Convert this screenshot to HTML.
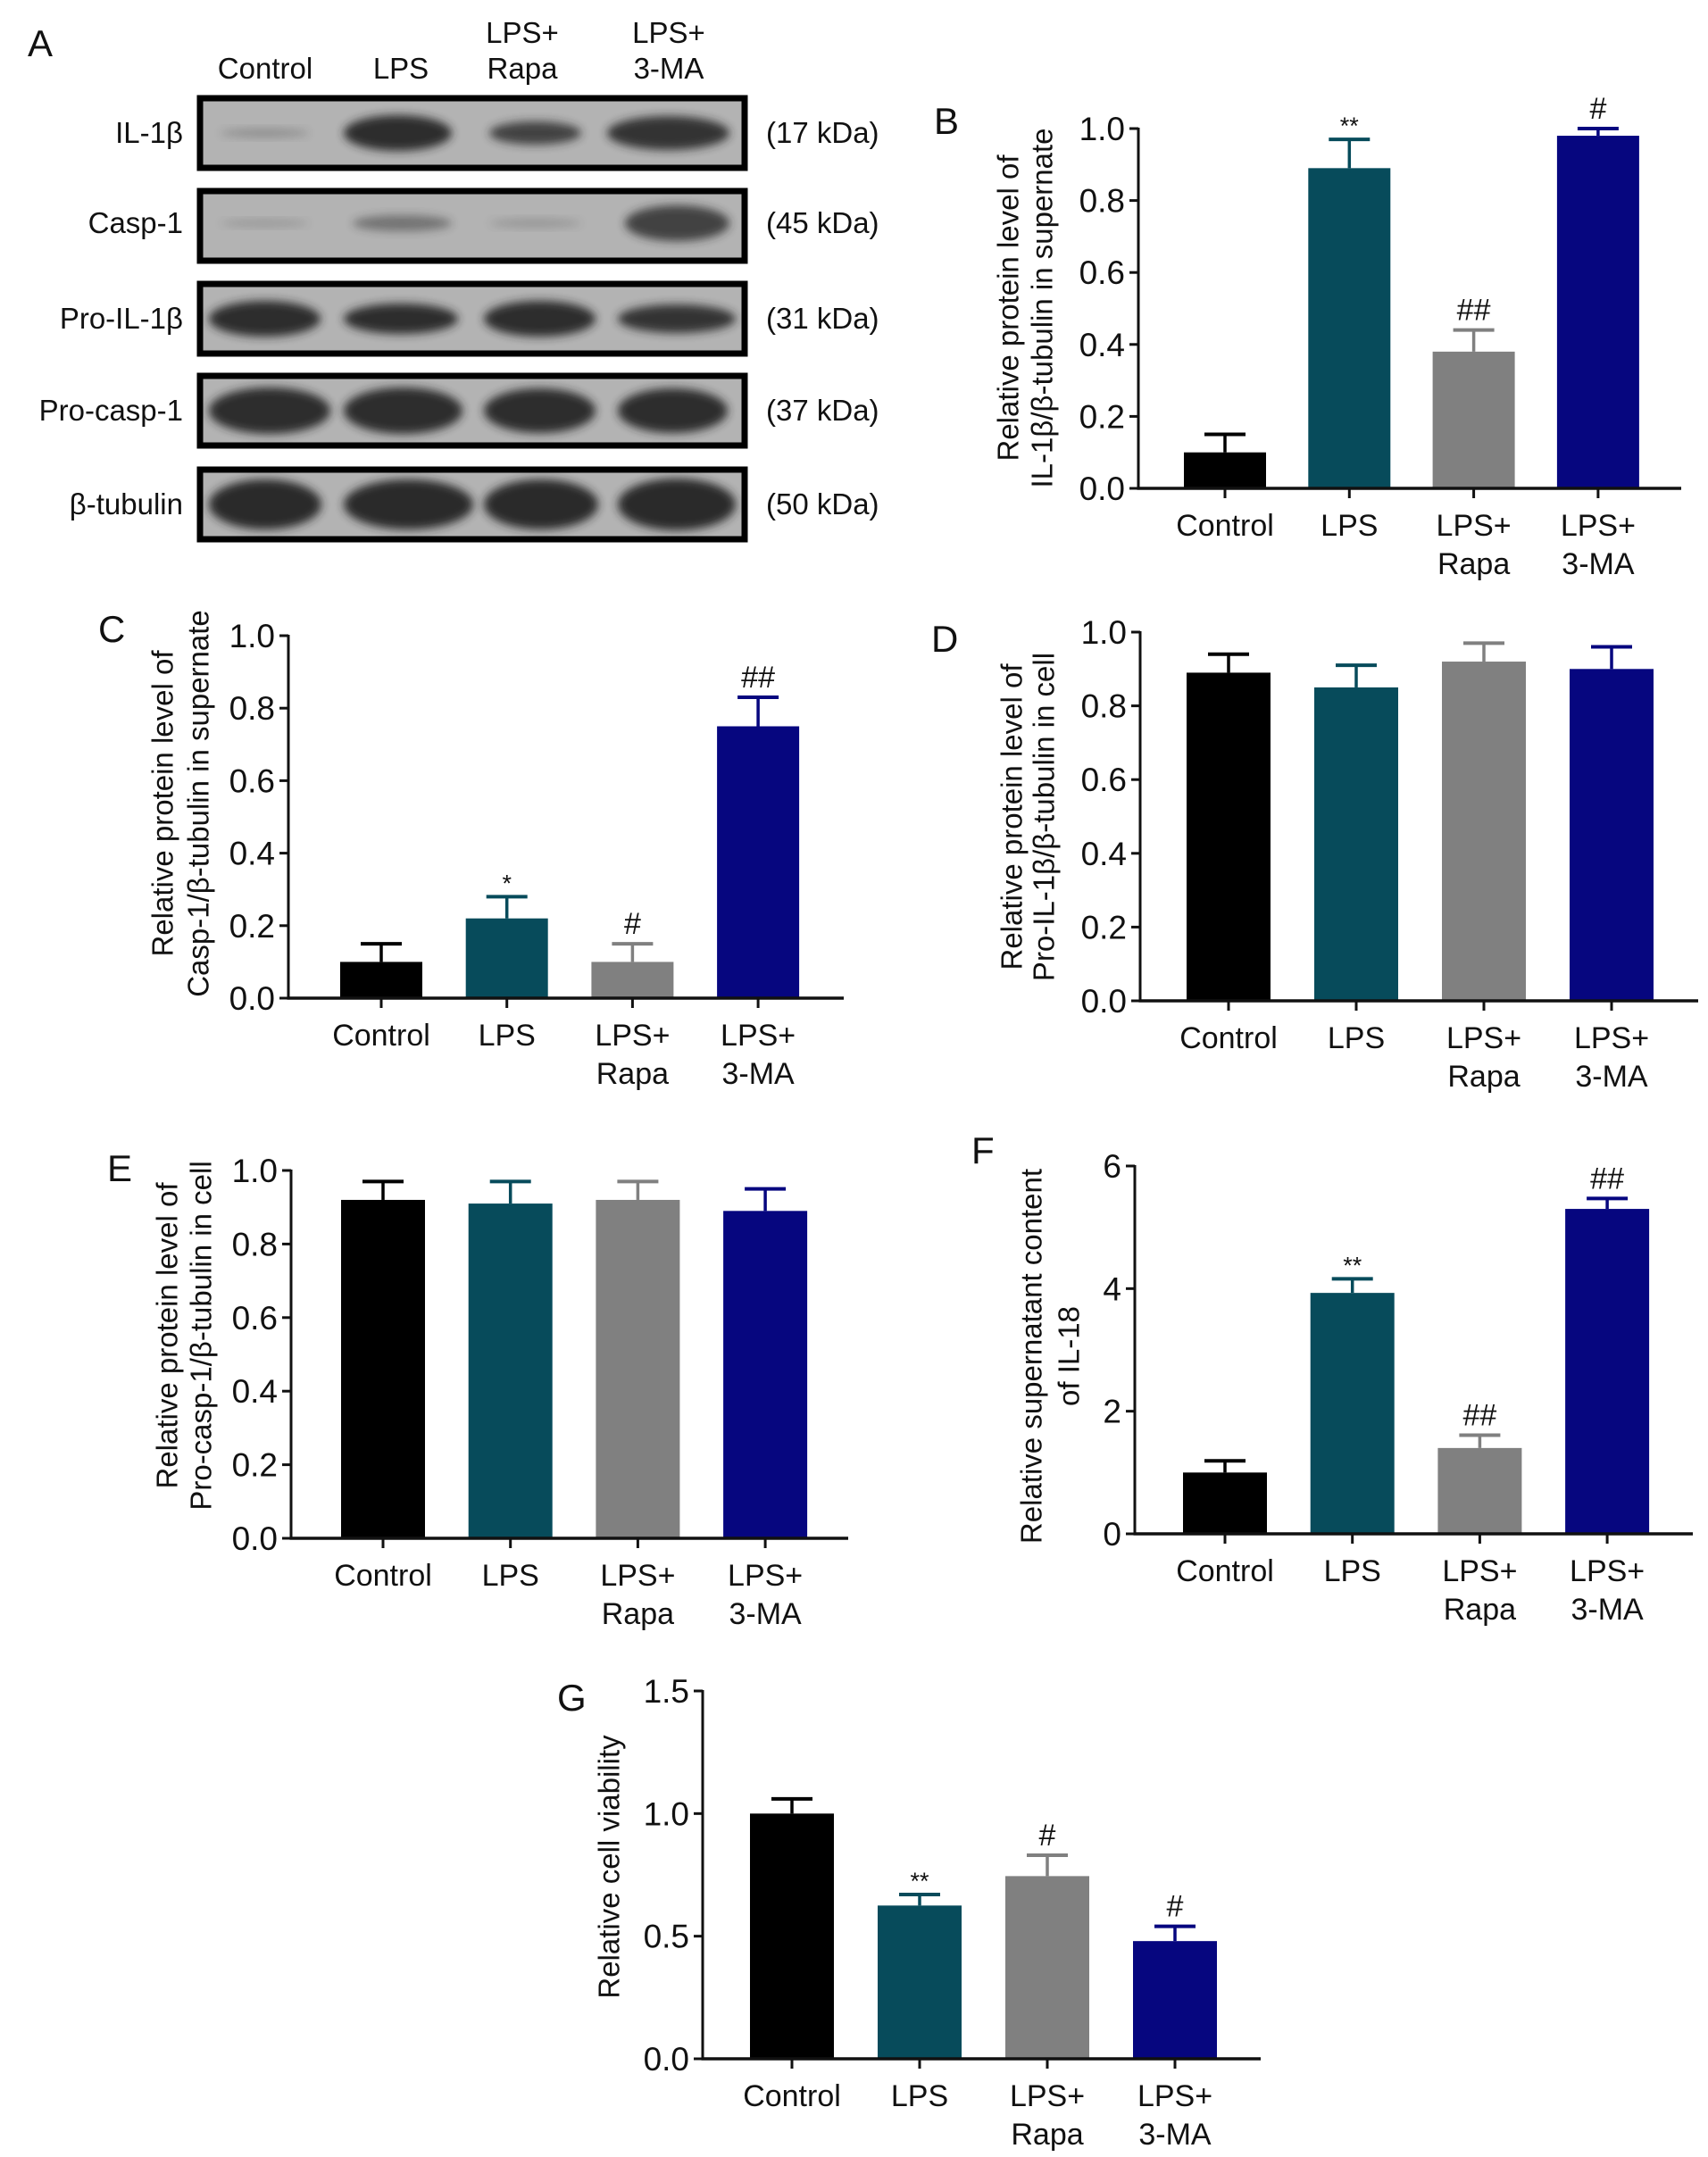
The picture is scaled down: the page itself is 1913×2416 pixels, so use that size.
<!DOCTYPE html>
<html><head><meta charset="utf-8">
<style>
html,body{margin:0;padding:0;background:#fff;}
svg{display:block;font-family:"Liberation Sans",Arial,sans-serif;}
</style></head>
<body>
<svg id="fig" width="1913" height="2416" viewBox="0 0 1913 2416" xmlns="http://www.w3.org/2000/svg">
<defs>
<filter id="blur" x="-20%" y="-50%" width="140%" height="200%"><feGaussianBlur stdDeviation="5"/></filter>
</defs>
<g id="blot"></g>
<g id="charts"></g>
</svg>
<script>
const categories = ["Control","LPS","LPS+|Rapa","LPS+|3-MA"];
const colors = ["#000000","#074b5b","#808080","#06067f"];

const valuesB = [0.10, 0.89, 0.38, 0.98];
const errorsB = [0.05, 0.08, 0.06, 0.02];
const sigB = ["", "**", "##", "#"];
const ticksB = [0, 0.2, 0.4, 0.6, 0.8, 1.0];

const valuesC = [0.10, 0.22, 0.10, 0.75];
const errorsC = [0.05, 0.06, 0.05, 0.08];
const sigC = ["", "*", "#", "##"];
const ticksC = [0, 0.2, 0.4, 0.6, 0.8, 1.0];

const valuesD = [0.89, 0.85, 0.92, 0.90];
const errorsD = [0.05, 0.06, 0.05, 0.06];
const sigD = ["", "", "", ""];
const ticksD = [0, 0.2, 0.4, 0.6, 0.8, 1.0];

const valuesE = [0.92, 0.91, 0.92, 0.89];
const errorsE = [0.05, 0.06, 0.05, 0.06];
const sigE = ["", "", "", ""];
const ticksE = [0, 0.2, 0.4, 0.6, 0.8, 1.0];

const valuesF = [1.00, 3.93, 1.40, 5.30];
const errorsF = [0.19, 0.23, 0.21, 0.17];
const sigF = ["", "**", "##", "##"];
const ticksF = [0, 2, 4, 6];

const valuesG = [1.00, 0.625, 0.745, 0.48];
const errorsG = [0.06, 0.045, 0.085, 0.06];
const sigG = ["", "**", "#", "#"];
const ticksG = [0, 0.5, 1.0, 1.5];

const NS = "http://www.w3.org/2000/svg";
function mk(tag, attrs, parent){
  const e = document.createElementNS(NS, tag);
  for (const k in attrs) e.setAttribute(k, attrs[k]);
  if (parent) parent.appendChild(e);
  return e;
}
function txt(parent, x, y, s, size, anchor, extra){
  const t = mk("text", Object.assign({x:x, y:y, "font-size":size, "text-anchor":anchor||"start", fill:"#111"}, extra||{}), parent);
  t.textContent = s;
  return t;
}

/* ---------- Western blot panel A ---------- */
const blot = document.getElementById("blot");
const laneNames = ["Control","LPS","LPS+|Rapa","LPS+|3-MA"];
const laneX = [297, 449, 585, 749];
const rowNames = ["IL-1β","Casp-1","Pro-IL-1β","Pro-casp-1","β-tubulin"];
const rowKda = ["(17 kDa)","(45 kDa)","(31 kDa)","(37 kDa)","(50 kDa)"];
const rowTop = [107, 211, 315, 418, 523];
const rowH = 84;
const bands = [
  [[247,346,10,0.25],[385,506,40,0.95],[548,651,26,0.8],[680,817,38,0.9]],
  [[247,346,8,0.2],[395,506,18,0.45],[548,651,10,0.2],[700,817,40,0.8]],
  [[234,359,40,0.95],[385,513,34,0.95],[542,667,40,0.95],[692,824,32,0.9]],
  [[234,370,52,0.95],[385,518,52,0.95],[542,667,50,0.95],[692,815,50,0.95]],
  [[234,360,56,0.97],[385,530,56,0.97],[542,670,56,0.97],[692,824,58,0.97]]
];
let a = txt(blot, 31, 63, "A", 42);


laneNames.forEach((n,i)=>{
  const parts = n.split("|");
  if (parts.length === 1) {
    const t = txt(blot, laneX[i], 88, parts[0], 33, "middle");
    
    
  } else {
    const t1 = txt(blot, laneX[i], 48, parts[0], 33, "middle");
    
    
    const t2 = txt(blot, laneX[i], 88, parts[1], 33, "middle");
    
    
  }
});
rowNames.forEach((n,r)=>{
  const g = mk("g", {}, blot);
  
  
  const rect = mk("rect", {x:224, y:rowTop[r]+3, width:610, height:rowH-6, fill:"#b3b3b3", stroke:"#000", "stroke-width":7}, g);
  
  
  const cy = rowTop[r] + rowH/2 + (r===1?-3:0);
  bands[r].forEach(b=>{
    const el = mk("ellipse", {cx:(b[0]+b[1])/2, cy:cy, rx:(b[1]-b[0])/2, ry:b[2]/2, fill:"#262626", opacity:b[3], filter:"url(#blur)"}, g);
    
    
  });
  const l = txt(g, 205, cy+11, n, 33, "end");
  
  
  const k = txt(g, 858, cy+11, rowKda[r], 33, "start");
  
  
});

/* ---------- Bar charts ---------- */
const charts = document.getElementById("charts");
function drawChart(cfg, values, errors, sig, ticks){
  const g = mk("g", {}, charts);
  
  
  const yMax = ticks[ticks.length-1];
  const yS = v => cfg.y0 - (v / yMax) * (cfg.y0 - cfg.yTop);
  const xS = i => cfg.c0 + i * cfg.step;

  const lab = txt(g, cfg.lx, cfg.ly, cfg.id.toUpperCase(), 42);
  
  

  values.forEach((v,i)=>{
    const top = yS(v), et = yS(v + errors[i]);
    const eb = mk("line", {x1:xS(i), x2:xS(i), y1:top, y2:et, stroke:colors[i], "stroke-width":3.5}, g);
    
    
    const cap = mk("line", {x1:xS(i)-23, x2:xS(i)+23, y1:et, y2:et, stroke:colors[i], "stroke-width":4}, g);
    
    
    const bar = mk("rect", {x:xS(i)-cfg.bw/2, y:top, width:cfg.bw, height:cfg.y0-top, fill:colors[i]}, g);
    
    
    if (sig[i]) {
      const isStar = sig[i].indexOf("*") >= 0;
      const s = txt(g, xS(i), isStar ? et-6 : et-11, sig[i], isStar ? 27 : 34, "middle");
      
      
    }
    const tk = mk("line", {x1:xS(i), x2:xS(i), y1:cfg.y0, y2:cfg.y0+11, stroke:"#111", "stroke-width":3}, g);
    
    
    const parts = categories[i].split("|");
    const c1 = txt(g, xS(i), cfg.y0+53, parts[0], 34, "middle");
    
    
    if (parts[1]) {
      const c2 = txt(g, xS(i), cfg.y0+96, parts[1], 34, "middle");
      
      
    }
  });

  const yAxis = mk("line", {x1:cfg.ax, x2:cfg.ax, y1:cfg.yTop-1, y2:cfg.y0+1.5, stroke:"#111", "stroke-width":3}, g);
  
  
  const xAxis = mk("line", {x1:cfg.ax-1.5, x2:cfg.end, y1:cfg.y0, y2:cfg.y0, stroke:"#111", "stroke-width":3.5}, g);
  
  

  ticks.forEach(t=>{
    const y = yS(t);
    const tl = mk("line", {x1:cfg.ax-10, x2:cfg.ax, y1:y, y2:y, stroke:"#111", "stroke-width":3}, g);
    
    
    const lbl = txt(g, cfg.ax-15, y+13, cfg.dec ? t.toFixed(1) : String(t), 37, "end");
    
    
  });

  cfg.title.forEach((line,k)=>{
    const x = cfg.tx[k], y = cfg.ty;
    const t = txt(g, x, y, line, 33, "middle", {transform:"rotate(-90 "+x+" "+y+")", "dominant-baseline":"central"});
    
    
  });
}

drawChart({id:"b", ax:1275, end:1883, y0:547, yTop:144, c0:1372, step:139.3, bw:92, dec:true,
  lx:1046, ly:150, tx:[1129,1167], ty:345,
  title:["Relative protein level of","IL-1β/β-tubulin in supernate"]}, valuesB, errorsB, sigB, ticksB);
drawChart({id:"c", ax:323, end:945, y0:1118, yTop:712, c0:427, step:140.7, bw:92, dec:true,
  lx:110, ly:719, tx:[182,222], ty:900,
  title:["Relative protein level of","Casp-1/β-tubulin in supernate"]}, valuesC, errorsC, sigC, ticksC);
drawChart({id:"d", ax:1277, end:1902, y0:1121, yTop:708, c0:1376, step:143, bw:94, dec:true,
  lx:1043, ly:730, tx:[1133,1169], ty:915,
  title:["Relative protein level of","Pro-IL-1β/β-tubulin in cell"]}, valuesD, errorsD, sigD, ticksD);
drawChart({id:"e", ax:326, end:950, y0:1723, yTop:1311, c0:429, step:142.7, bw:94, dec:true,
  lx:120, ly:1323, tx:[187,225], ty:1496,
  title:["Relative protein level of","Pro-casp-1/β-tubulin in cell"]}, valuesE, errorsE, sigE, ticksE);
drawChart({id:"f", ax:1271, end:1896, y0:1718, yTop:1306, c0:1372, step:142.7, bw:94, dec:false,
  lx:1088, ly:1303, tx:[1155,1197], ty:1519,
  title:["Relative supernatant content","of IL-18"]}, valuesF, errorsF, sigF, ticksF);
drawChart({id:"g", ax:787, end:1412, y0:2306, yTop:1894, c0:887, step:143, bw:94, dec:true,
  lx:624, ly:1916, tx:[682], ty:2091,
  title:["Relative cell viability"]}, valuesG, errorsG, sigG, ticksG);
</script>
</body></html>
